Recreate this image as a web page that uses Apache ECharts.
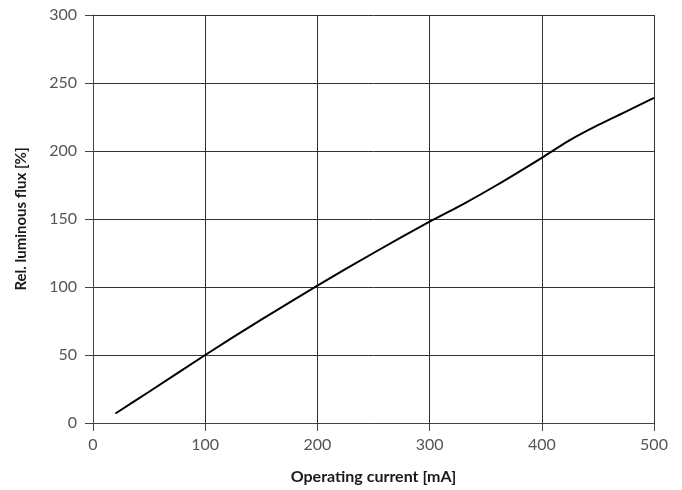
<!DOCTYPE html>
<html><head><meta charset="utf-8">
<script src="https://cdn.jsdelivr.net/npm/echarts@6/dist/echarts.min.js"></script>
<style>html,body{margin:0;padding:0;background:#fff}#c{width:682px;height:490px}</style>
</head><body><div id="c"></div>
<script>
const currentMA = [20, 50, 100, 150, 200, 250, 300, 330, 360, 400, 425, 450, 475, 500];
const fluxPct   = [7, 23, 50, 76, 101, 125, 148, 161, 175, 195, 208, 219, 229, 239];
const xTicks = [0, 100, 200, 300, 400, 500];
const yTicks = [0, 50, 100, 150, 200, 250, 300];

const chart = echarts.init(document.getElementById('c'), null, {renderer: 'canvas'});
const font = 'Lato, "Open Sans", sans-serif';
chart.setOption({
  animation: false,
  grid: {left: 93, top: 15, width: 561, height: 410},
  xAxis: {
    type: 'value', min: xTicks[0], max: xTicks[xTicks.length-1], interval: 100,
    name: 'Operating current [mA]', nameLocation: 'middle', nameGap: 46,
    nameTextStyle: {fontFamily: font, fontWeight: 'bold', fontSize: 16, color: '#1a1a1a'},
    axisLine: {show: true, lineStyle: {color: '#444', width: 1}},
    axisTick: {show: true, length: 8, lineStyle: {color: '#444'}},
    axisLabel: {fontFamily: font, fontSize: 16, color: '#555', margin: 14},
    splitLine: {show: true, lineStyle: {color: '#333', width: 1}}
  },
  yAxis: {
    type: 'value', min: yTicks[0], max: yTicks[yTicks.length-1], interval: 50,
    name: 'Rel. luminous flux [%]', nameLocation: 'middle', nameGap: 64,
    nameTextStyle: {fontFamily: font, fontWeight: 'bold', fontSize: 15, color: '#1a1a1a'},
    axisLine: {show: true, lineStyle: {color: '#444', width: 1}},
    axisTick: {show: true, length: 8, lineStyle: {color: '#444'}},
    axisLabel: {fontFamily: font, fontSize: 16, color: '#555', margin: 16},
    splitLine: {show: true, lineStyle: {color: '#333', width: 1}}
  },
  series: [{
    type: 'line', data: currentMA.map((x, i) => [x, fluxPct[i]]),
    showSymbol: false, smooth: 0.3,
    lineStyle: {color: '#000', width: 2}
  }]
});
</script></body></html>
